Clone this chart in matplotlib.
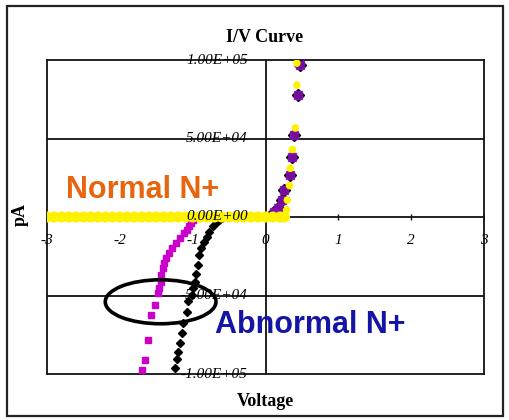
import matplotlib
matplotlib.use("Agg")
import matplotlib.pyplot as plt
from matplotlib.patches import Ellipse, Rectangle

# ---- data ----
# Normal N+ (yellow)
normal_v = [-3.0, -2.9, -2.8, -2.7, -2.6, -2.5, -2.4, -2.3, -2.2, -2.1, -2.0,
            -1.9, -1.8, -1.7, -1.6, -1.5, -1.4, -1.3, -1.2, -1.1, -1.0,
            -0.9, -0.8, -0.7, -0.6, -0.5, -0.4, -0.3, -0.2, -0.1, 0.0,
            0.1, 0.2, 0.26, 0.29, 0.30, 0.33, 0.34, 0.37, 0.41, 0.43, 0.43]
normal_i = [0] * 33 + [0, 4500, 10800, 20000, 31000, 43000, 56700, 84000, 98000]

# Abnormal N+ reverse branch (magenta squares)
mag_v = [-1.00, -1.02, -1.05, -1.08, -1.12, -1.18, -1.23, -1.29, -1.33, -1.36,
         -1.39, -1.41, -1.43, -1.44, -1.46, -1.48, -1.52, -1.57, -1.62, -1.66, -1.69]
mag_i = [-2000, -3800, -6000, -8300, -10500, -13400, -16500, -19700, -23000, -26100,
         -29500, -32500, -37000, -41400, -45000, -48400, -56000, -62400, -78300, -91000, -97500]

# Abnormal N+ reverse branch (black diamonds)
blk_v = [-0.60, -0.64, -0.67, -0.72, -0.77, -0.80, -0.84, -0.88, -0.91, -0.93,
         -0.95, -0.97, -0.99, -1.01, -1.06, -1.08, -1.13, -1.15, -1.18, -1.20, -1.22, -1.24]
blk_i = [-500, -2000, -3200, -6000, -9500, -12500, -15900, -20000, -24200, -30600,
         -36000, -41400, -45500, -49700, -53500, -60500, -67500, -74000, -80500, -86000, -90500, -96000]

# forward branch shared by magenta / black series (purple look)
fwd_v = [0.12, 0.165, 0.22, 0.26, 0.33, 0.357, 0.385, 0.44, 0.467]
fwd_i = [3200, 5700, 10800, 17200, 26800, 38200, 52200, 77700, 96800]

x_ticks = [-3, -2, -1, 0, 1, 2, 3]
y_ticks = [100000, 50000, 0, -50000, -100000]
y_tick_labels = ["1.00E+05", "5.00E+04", "0.00E+00", "-5.00E+04", "-1.00E+05"]

serif = "Liberation Serif"
sans = "Liberation Sans"

fig = plt.figure(figsize=(5.09, 4.20), dpi=100)
fig.patch.set_facecolor("white")
fig.patches.append(Rectangle((7 / 509, 4 / 420), 496 / 509, 410 / 420,
                             transform=fig.transFigure, fill=False,
                             edgecolor="#222222", linewidth=1.6))

ax = fig.add_axes([47 / 509, 46 / 420, 437 / 509, 314 / 420])
ax.set_xlim(-3, 3)
ax.set_ylim(-100000, 100000)
for s in ax.spines.values():
    s.set_linewidth(1.3)
    s.set_color("#111111")
ax.set_xticks([])
ax.set_yticks([])

# grid / axes lines
for yv in [50000, -50000]:
    ax.axhline(yv, color="#111111", lw=1.3, zorder=1)
ax.axhline(0, color="#111111", lw=1.3, zorder=1)
ax.axvline(0, color="#111111", lw=1.3, zorder=1)
# small tick marks on the x axis
ax.plot(x_ticks, [0] * len(x_ticks), linestyle="none", marker="|",
        markersize=5, color="#111111", zorder=1)

# series
ax.plot(blk_v, blk_i, linestyle="none", marker="D", markersize=4.2,
        color="black", zorder=3)
ax.plot(fwd_v, fwd_i, linestyle="none", marker="D", markersize=6,
        color="black", zorder=3)
ax.plot(mag_v, mag_i, linestyle="none", marker="s", markersize=4.8,
        color="#CC00CC", zorder=4)
ax.plot(fwd_v, fwd_i, linestyle="none", marker="s", markersize=5.5,
        color="#8A10B8", alpha=0.85, zorder=4)
normal_sizes = [64 if i == 0 else 30 for i in normal_i]
ax.scatter(normal_v, normal_i, s=normal_sizes, marker="o",
           color="#FFF200", edgecolors="none", zorder=5)

# ellipse highlight
ax.add_patch(Ellipse((-1.44, -54000), 1.52, 28000, fill=False,
                     edgecolor="black", linewidth=2.6, zorder=6))

# tick labels
for xv in x_ticks:
    ax.text(xv, -14800, str(xv), ha="center", va="center", fontsize=11,
            fontstyle="italic", family=serif, clip_on=False, zorder=7)
for yv, lab in zip(y_ticks, y_tick_labels):
    ax.text(-0.245, yv, lab, ha="right", va="center", fontsize=11,
            fontstyle="italic", family=serif, clip_on=False, zorder=7)

# annotations
ax.text(-2.74, 17000, "Normal N+", ha="left", va="center", fontsize=22,
        fontweight="bold", family=sans, color="#E8650F", zorder=8)
ax.text(-0.69, -69000, "Abnormal N+", ha="left", va="center", fontsize=22,
        fontweight="bold", family=sans, color="#1515A5", zorder=8)

fig.text(265 / 509, 1 - 38 / 420, "I/V Curve", ha="center", va="center",
         fontsize=13, fontweight="bold", family=serif)
fig.text(265 / 509, 1 - 401 / 420, "Voltage", ha="center", va="center",
         fontsize=13, fontweight="bold", family=serif)
fig.text(20 / 509, 1 - 215 / 420, "pA", ha="center", va="center",
         fontsize=13, fontweight="bold", family=serif, rotation=90)

fig.savefig("out.png", dpi=100)
